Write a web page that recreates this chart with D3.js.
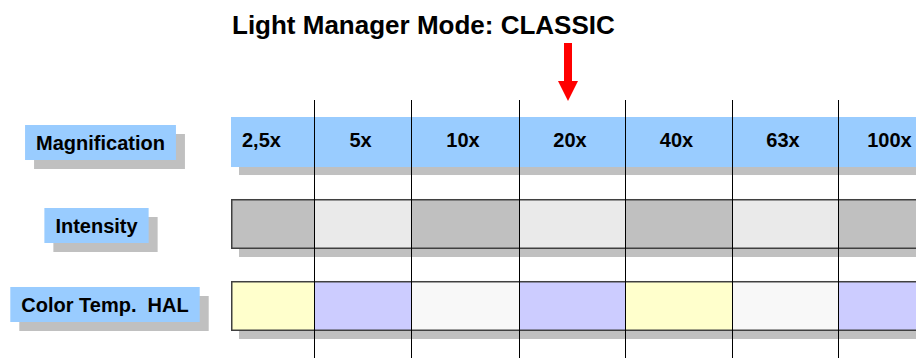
<!DOCTYPE html>
<html>
<head>
<meta charset="utf-8">
<script src="https://cdn.jsdelivr.net/npm/d3@7/dist/d3.min.js"></script>
<style>
  html, body { margin: 0; padding: 0; background: #fff; }
  svg { display: block; }
  text { font-family: "Liberation Sans", Arial, sans-serif; font-weight: bold; fill: #000; white-space: pre; }
</style>
</head>
<body>
<svg id="chart" width="916" height="358"></svg>
<script>
// ---- data ----
const title = "Light Manager Mode: CLASSIC";
const rowLabels = ["Magnification", "Intensity", "Color Temp.  HAL"];
const magnifications = ["2,5x", "5x", "10x", "20x", "40x", "63x", "100x"];
const intensity = ["high", "low", "high", "low", "high", "low", "high"];
const colorTemp = ["warm", "cool", "neutral", "cool", "warm", "neutral", "cool"];
const selectedMagnification = "20x";

// ---- layout ----
const W = 916, H = 358;
const colEdges = [231, 314, 411, 519, 625, 732, 838, 945];
const labelCenters = [100.5, 96.5, 105];
const shadowOff = 8;

const svg = d3.select("#chart");

const x = d3.scaleLinear().domain(d3.range(colEdges.length)).range(colEdges);
const y = d3.scaleBand().domain(rowLabels).range([117, 331]).paddingInner(0.39).paddingOuter(0);
const intensityColor = d3.scaleOrdinal().domain(["high", "low"]).range(["#C0C0C0", "#EAEAEA"]);
const tempColor = d3.scaleOrdinal().domain(["warm", "cool", "neutral"]).range(["#FFFFCC", "#CCCCFF", "#F8F8F8"]);

const x0 = x(0), bw = y.bandwidth();

// title
svg.append("text").attr("x", 232).attr("y", 34)
  .style("font-size", "26px").text(title);

// row shadows
rowLabels.forEach(r => {
  svg.append("rect").attr("x", x0 + shadowOff).attr("y", y(r) + shadowOff)
    .attr("width", W - x0).attr("height", bw).attr("fill", "#C0C0C0");
});

// magnification row
svg.append("rect").attr("x", x0).attr("y", y(rowLabels[0]))
  .attr("width", W - x0 + 5).attr("height", bw).attr("fill", "#99CCFF");

// intensity row cells
svg.append("g").selectAll("rect").data(intensity).join("rect")
  .attr("x", (d, i) => x(i)).attr("y", y(rowLabels[1]))
  .attr("width", (d, i) => x(i + 1) - x(i)).attr("height", bw)
  .attr("fill", d => intensityColor(d));

// color temp row cells
svg.append("g").selectAll("rect").data(colorTemp).join("rect")
  .attr("x", (d, i) => x(i)).attr("y", y(rowLabels[2]))
  .attr("width", (d, i) => x(i + 1) - x(i)).attr("height", bw)
  .attr("fill", d => tempColor(d));

// row borders
[rowLabels[1], rowLabels[2]].forEach(r => {
  svg.append("rect").attr("x", x0 + 0.75).attr("y", y(r) + 0.75)
    .attr("width", W - x0 + 10).attr("height", bw - 1.5)
    .attr("fill", "none").attr("stroke", "#404040").attr("stroke-width", 1.5);
});

// vertical separators
svg.append("g").selectAll("line").data(d3.range(1, magnifications.length)).join("line")
  .attr("x1", i => Math.round(x(i)) + 0.5).attr("x2", i => Math.round(x(i)) + 0.5)
  .attr("y1", 100).attr("y2", H)
  .attr("stroke", "#000").attr("stroke-width", 1);

// magnification labels
svg.append("g").selectAll("text").data(magnifications).join("text")
  .attr("x", (d, i) => i === 0 ? x(0) + 11 : (x(i) + x(i + 1)) / 2 - 2)
  .attr("y", y(rowLabels[0]) + bw / 2 + 5)
  .attr("text-anchor", (d, i) => i === 0 ? "start" : "middle")
  .style("font-size", "20px")
  .text(d => d);

// row label boxes
rowLabels.forEach((r, i) => {
  const g = svg.append("g");
  const cy = y(r) + bw / 2 + (i === 0 ? 0.5 : (i === 1 ? 1.5 : -1.5));
  const t = g.append("text").attr("x", labelCenters[i]).attr("y", cy + 7.5)
    .attr("text-anchor", "middle").style("font-size", "20px").text(r);
  const tw = t.node().getComputedTextLength();
  const bwid = tw + 22, bh = 35;
  const bx = labelCenters[i] - bwid / 2, by = cy - bh / 2;
  g.insert("rect", "text").attr("x", bx + 9).attr("y", by + 9)
    .attr("width", bwid).attr("height", bh).attr("fill", "#C0C0C0");
  g.insert("rect", "text").attr("x", bx).attr("y", by)
    .attr("width", bwid).attr("height", bh).attr("fill", "#99CCFF");
});

// red arrow pointing at selected magnification
const si = magnifications.indexOf(selectedMagnification);
const ax = (x(si) + x(si + 1)) / 2 - 4;
const arrow = d3.path();
arrow.moveTo(ax - 4, 43); arrow.lineTo(ax + 4, 43); arrow.lineTo(ax + 4, 81);
arrow.lineTo(ax + 10, 81); arrow.lineTo(ax, 101); arrow.lineTo(ax - 10, 81);
arrow.lineTo(ax - 4, 81); arrow.closePath();
svg.append("path").attr("d", arrow.toString()).attr("fill", "#FF0000");
</script>
</body>
</html>
